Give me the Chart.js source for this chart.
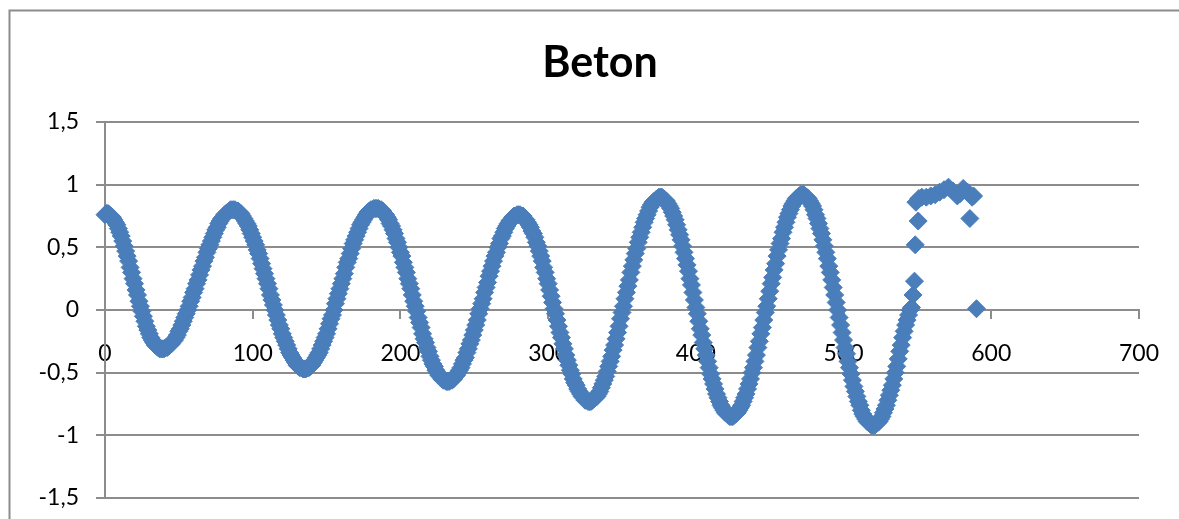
<!DOCTYPE html>
<html>
<head>
<meta charset="utf-8">
<script src="https://cdn.jsdelivr.net/npm/chart.js@4"></script>
<style>
  body { margin: 0; background: #fff; }
</style>
</head>
<body>
<canvas id="beton" width="1179" height="519"></canvas>
<script>
var ctx = document.getElementById('beton').getContext('2d');

/* Beton - readings, one per sample (x = sample number) */
const betonY = [
  0.76, 0.77, 0.77, 0.76, 0.75, 0.74, 0.72, 0.70, 0.68, 0.65,
  0.62, 0.59, 0.55, 0.51, 0.47, 0.43, 0.39, 0.34, 0.30, 0.25,
  0.21, 0.16, 0.12, 0.07, 0.03, -0.01, -0.05, -0.09, -0.13, -0.16,
  -0.19, -0.22, -0.24, -0.26, -0.28, -0.29, -0.30, -0.31, -0.31, -0.31,
  -0.31, -0.30, -0.30, -0.29, -0.28, -0.27, -0.25, -0.24, -0.22, -0.20,
  -0.17, -0.15, -0.12, -0.09, -0.06, -0.03, 0.00, 0.03, 0.07, 0.10,
  0.14, 0.17, 0.21, 0.24, 0.28, 0.32, 0.35, 0.39, 0.42, 0.46,
  0.49, 0.52, 0.55, 0.58, 0.61, 0.64, 0.66, 0.69, 0.71, 0.73,
  0.74, 0.76, 0.77, 0.78, 0.79, 0.80, 0.80, 0.80, 0.80, 0.79,
  0.79, 0.78, 0.77, 0.75, 0.73, 0.71, 0.69, 0.67, 0.64, 0.61,
  0.58, 0.55, 0.52, 0.48, 0.45, 0.41, 0.37, 0.33, 0.29, 0.25,
  0.21, 0.17, 0.12, 0.08, 0.04, 0.00, -0.04, -0.08, -0.12, -0.15,
  -0.19, -0.22, -0.25, -0.28, -0.31, -0.34, -0.36, -0.38, -0.40, -0.42,
  -0.44, -0.45, -0.46, -0.46, -0.47, -0.47, -0.47, -0.46, -0.46, -0.45,
  -0.44, -0.42, -0.40, -0.38, -0.36, -0.34, -0.31, -0.28, -0.25, -0.22,
  -0.19, -0.15, -0.11, -0.07, -0.04, 0.00, 0.05, 0.09, 0.13, 0.17,
  0.21, 0.25, 0.29, 0.34, 0.38, 0.41, 0.45, 0.49, 0.53, 0.56,
  0.59, 0.62, 0.65, 0.68, 0.70, 0.72, 0.74, 0.76, 0.78, 0.79,
  0.80, 0.80, 0.81, 0.81, 0.81, 0.81, 0.80, 0.80, 0.79, 0.77,
  0.76, 0.74, 0.72, 0.69, 0.67, 0.64, 0.61, 0.57, 0.54, 0.50,
  0.46, 0.43, 0.38, 0.34, 0.30, 0.25, 0.21, 0.17, 0.12, 0.07,
  0.03, -0.01, -0.06, -0.10, -0.14, -0.19, -0.23, -0.26, -0.30, -0.33,
  -0.37, -0.40, -0.43, -0.45, -0.48, -0.50, -0.52, -0.53, -0.55, -0.56,
  -0.56, -0.57, -0.57, -0.57, -0.56, -0.56, -0.55, -0.53, -0.52, -0.50,
  -0.48, -0.46, -0.43, -0.40, -0.38, -0.34, -0.31, -0.27, -0.24, -0.20,
  -0.16, -0.12, -0.08, -0.03, 0.01, 0.05, 0.09, 0.14, 0.18, 0.22,
  0.27, 0.31, 0.35, 0.39, 0.43, 0.46, 0.50, 0.53, 0.57, 0.59,
  0.62, 0.65, 0.67, 0.69, 0.71, 0.72, 0.74, 0.75, 0.75, 0.76,
  0.76, 0.76, 0.75, 0.75, 0.73, 0.72, 0.70, 0.68, 0.66, 0.63,
  0.61, 0.58, 0.54, 0.51, 0.47, 0.43, 0.39, 0.34, 0.30, 0.25,
  0.21, 0.16, 0.11, 0.06, 0.01, -0.03, -0.08, -0.13, -0.18, -0.22,
  -0.27, -0.31, -0.36, -0.40, -0.44, -0.48, -0.51, -0.55, -0.58, -0.60,
  -0.63, -0.65, -0.67, -0.69, -0.70, -0.72, -0.72, -0.73, -0.73, -0.73,
  -0.72, -0.71, -0.70, -0.69, -0.67, -0.65, -0.62, -0.59, -0.56, -0.53,
  -0.49, -0.45, -0.41, -0.37, -0.32, -0.28, -0.23, -0.18, -0.13, -0.07,
  -0.02, 0.03, 0.09, 0.14, 0.19, 0.24, 0.30, 0.35, 0.40, 0.45,
  0.49, 0.54, 0.58, 0.62, 0.66, 0.70, 0.73, 0.76, 0.79, 0.82,
  0.84, 0.86, 0.87, 0.88, 0.89, 0.90, 0.90, 0.90, 0.89, 0.88,
  0.87, 0.85, 0.83, 0.81, 0.78, 0.75, 0.72, 0.68, 0.64, 0.60,
  0.56, 0.51, 0.46, 0.41, 0.36, 0.31, 0.25, 0.20, 0.14, 0.08,
  0.02, -0.03, -0.09, -0.15, -0.20, -0.26, -0.31, -0.36, -0.41, -0.46,
  -0.51, -0.55, -0.59, -0.63, -0.67, -0.70, -0.73, -0.76, -0.78, -0.80,
  -0.82, -0.83, -0.84, -0.85, -0.85, -0.85, -0.84, -0.83, -0.82, -0.80,
  -0.78, -0.76, -0.73, -0.70, -0.67, -0.63, -0.59, -0.55, -0.50, -0.46,
  -0.41, -0.36, -0.30, -0.25, -0.19, -0.14, -0.08, -0.02, 0.03, 0.09,
  0.15, 0.21, 0.26, 0.32, 0.37, 0.43, 0.48, 0.53, 0.57, 0.62,
  0.66, 0.70, 0.74, 0.77, 0.80, 0.83, 0.85, 0.87, 0.89, 0.90,
  0.91, 0.92, 0.92, 0.92, 0.91, 0.90, 0.89, 0.87, 0.85, 0.83,
  0.80, 0.76, 0.73, 0.69, 0.65, 0.61, 0.56, 0.51, 0.46, 0.41,
  0.35, 0.30, 0.24, 0.18, 0.12, 0.06, 0.00, -0.06, -0.12, -0.18,
  -0.24, -0.30, -0.35, -0.41, -0.46, -0.51, -0.56, -0.61, -0.65, -0.69,
  -0.73, -0.76, -0.80, -0.83, -0.85, -0.87, -0.89, -0.90, -0.91, -0.92,
  -0.92, -0.92, -0.91, -0.90, -0.89, -0.87, -0.85, -0.82, -0.79, -0.76,
  -0.72, -0.68, -0.64, -0.60, -0.55, -0.50, -0.45, -0.39, -0.33, -0.28,
  -0.22, -0.17, -0.12, -0.08, -0.04, 0.00, 0.02
];

/* last scattered readings at the end of the series */
const endX = [547, 548, 548.5, 550.5, 549, 551, 553, 556, 559, 562, 565, 568, 571, 574, 577, 579, 581, 584, 587, 588, 585.5, 590];
const endY = [0.12, 0.23, 0.52, 0.71, 0.86, 0.89, 0.90, 0.90, 0.91, 0.92, 0.94, 0.96, 0.98, 0.95, 0.91, 0.93, 0.97, 0.94, 0.90, 0.91, 0.73, 0.01];

const xTicks = [0, 100, 200, 300, 400, 500, 600, 700];
const yTickLabels = ['-1,5', '-1', '-0,5', '0', '0,5', '1', '1,5'];
const titre = 'Beton';

const points = betonY.map((y, i) => ({ x: i, y: y }))
  .concat(endX.map((x, i) => ({ x: x, y: endY[i] })));

const gris = '#8c8c8c';
const bleu = '#4a7ebb';

// outer frame + title, drawn like the excel chart
const frame = {
  id: 'frame',
  beforeDraw(chart) {
    const c = chart.ctx;
    c.save();
    c.fillStyle = '#fff';
    c.fillRect(0, 0, chart.width, chart.height);
    c.strokeStyle = gris;
    c.lineWidth = 2;
    c.strokeRect(9.5, 10.5, chart.width + 20, chart.height + 20);
    c.fillStyle = '#000';
    c.font = 'bold 43px Lato';
    c.textAlign = 'center';
    c.textBaseline = 'alphabetic';
    c.fillText(titre, 600, 77);
    c.restore();
  }
};

var myChart = new Chart(ctx, {
  type: 'scatter',
  data: {
    datasets: [{
      label: titre,
      data: points,
      pointStyle: 'rectRot',
      pointRadius: 9,
      pointHoverRadius: 9,
      borderWidth: 1,
      backgroundColor: bleu,
      borderColor: bleu,
      clip: false
    }]
  },
  plugins: [frame],
  options: {
    responsive: false,
    animation: false,
    layout: { autoPadding: false, padding: { left: 0, right: 40, top: 122, bottom: 21 } },
    plugins: {
      legend: { display: false },
      tooltip: { enabled: false },
      title: { display: false }
    },
    scales: {
      x: {
        type: 'linear',
        position: { y: 0 },
        min: 0,
        max: 700,
        afterBuildTicks: (s) => { s.ticks = xTicks.map(v => ({ value: v })); },
        afterFit: (s) => { s.paddingLeft = 0; s.paddingRight = 0; },
        ticks: {
          color: '#000',
          font: { family: 'Lato', size: 23 },
          padding: 22,
          maxRotation: 0,
          callback: (v) => String(v)
        },
        grid: { drawOnChartArea: false, drawTicks: true, tickLength: 8, color: gris, lineWidth: 2 },
        border: { display: true, color: gris, width: 2 }
      },
      y: {
        min: -1.5,
        max: 1.5,
        afterFit: (s) => { s.width = 105; s.paddingTop = 0; s.paddingBottom = 0; },
        ticks: {
          stepSize: 0.5,
          color: '#000',
          font: { family: 'Lato', size: 23 },
          padding: 17,
          callback: (v, i) => yTickLabels[i]
        },
        grid: { color: gris, lineWidth: 2, tickLength: 9 },
        border: { display: true, color: gris, width: 2 }
      }
    }
  }
});
</script>
</body>
</html>
